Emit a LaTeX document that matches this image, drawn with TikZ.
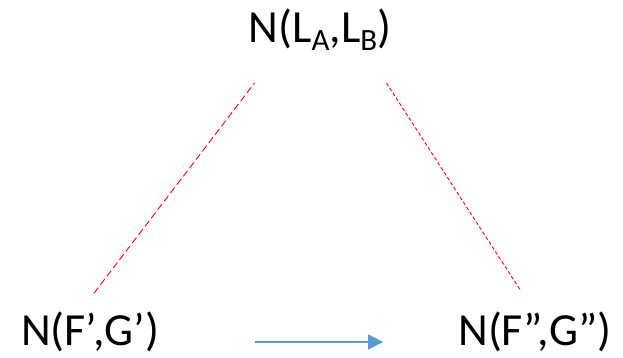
\documentclass[tikz,border=0pt]{standalone}
\usepackage{fontspec}
\setmainfont{Carlito}
\usepackage{tikz}
\usetikzlibrary{
  arrows.meta,
  positioning,
}
\definecolor{arrowblue}{RGB}{91,155,213}
\newcommand{\sub}[1]{\raisebox{-0.17em}{\fontsize{31}{32}\selectfont #1}}

\begin{document}
\begin{tikzpicture}[
  x=1pt, y=1pt,
  font=\fontsize{46}{52}\selectfont,
  term/.style={inner sep=0pt, anchor=base},
  longdash/.style={draw=red, line width=0.9pt, dash pattern=on 7pt off 3.5pt},
  shortdash/.style={draw=red, line width=0.9pt, dash pattern=on 3.5pt off 2.4pt},
  mapto/.style={draw=arrowblue, line width=1.3pt, -{Triangle[length=15pt,width=15pt]}},
]
  \useasboundingbox (0,0) rectangle (623,358);

  % Terms
  \node[term] (lab)  at (320,315) {N(L\sub{A},L\sub{B})};
  \node[term] (nfg1) at (90,12)   {N(F’,G’)};
  \node[term] (nfg2) at (535,12)  {N(F”,G”)};

  % Dashed links
  \draw[longdash]  ([xshift=4pt,yshift=19pt]nfg1.north) -- ([xshift=6pt,yshift=-32pt]lab.south west);
  \draw[shortdash] ([xshift=-5pt,yshift=-32pt]lab.south east) -- ([xshift=-14pt,yshift=21pt]nfg2.north);

  % Map
  \draw[mapto, shorten <=96pt, shorten >=75pt] ([yshift=4pt]nfg1.base east) -- ([yshift=4pt]nfg2.base west);
\end{tikzpicture}
\end{document}
